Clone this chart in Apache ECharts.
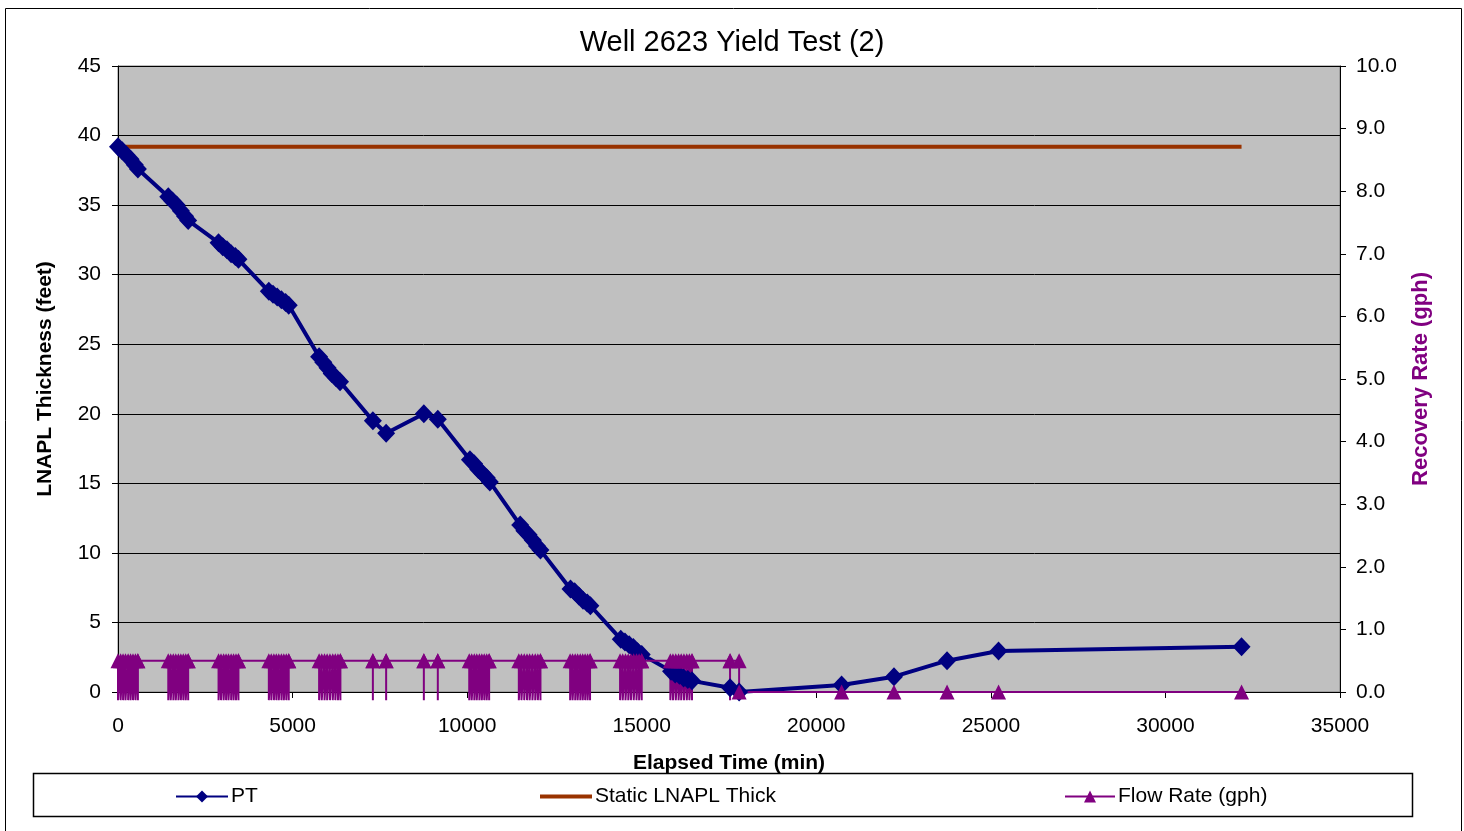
<!DOCTYPE html>
<html>
<head>
<meta charset="utf-8">
<script src="https://cdn.jsdelivr.net/npm/echarts@6/dist/echarts.min.js"></script>
<style>
html,body{margin:0;padding:0;background:#fff;}
#chart{width:1464px;height:831px;}
</style>
</head>
<body>
<div id="chart"></div>
<script>
// ---------- data ----------
const titleText = 'Well 2623 Yield Test (2)';
const xTicks = [0, 5000, 10000, 15000, 20000, 25000, 30000, 35000];
const leftTicks = [0, 5, 10, 15, 20, 25, 30, 35, 40, 45];
const rightTicks = [0.0, 1.0, 2.0, 3.0, 4.0, 5.0, 6.0, 7.0, 8.0, 9.0, 10.0];

// PT (LNAPL thickness, feet)
const ptTime = [
  0, 120, 240, 360, 480, 570,
  1440, 1560, 1680, 1800, 1920, 2010,
  2880, 3000, 3120, 3240, 3360, 3450,
  4320, 4440, 4560, 4680, 4800, 4890,
  5760, 5880, 6000, 6120, 6240, 6360,
  7300, 7680, 8760, 9160,
  10080, 10200, 10320, 10440, 10560, 10650,
  11520, 11640, 11760, 11880, 12000, 12100,
  12960, 13080, 13200, 13320, 13440, 13530,
  14400, 14520, 14640, 14760, 14880, 15000,
  15840, 15960, 16080, 16200, 16320, 16440,
  17530, 17790, 20725, 22225, 23745, 25220, 32180
];
const ptValue = [
  39.2, 38.9, 38.6, 38.3, 37.9, 37.6,
  35.6, 35.3, 35.0, 34.6, 34.2, 33.9,
  32.3, 32.0, 31.8, 31.5, 31.3, 31.1,
  28.8, 28.6, 28.4, 28.2, 28.0, 27.8,
  24.1, 23.7, 23.3, 22.9, 22.6, 22.3,
  19.5, 18.6, 20.0, 19.6,
  16.7, 16.4, 16.0, 15.7, 15.4, 15.1,
  12.0, 11.6, 11.3, 10.9, 10.5, 10.2,
  7.4, 7.2, 6.9, 6.6, 6.4, 6.2,
  3.8, 3.6, 3.4, 3.2, 2.9, 2.7,
  1.5, 1.3, 1.2, 1.0, 0.9, 0.8,
  0.3, 0.0, 0.5, 1.1, 2.25, 2.95, 3.25
];

// Static LNAPL thickness (feet)
const staticTime = [0, 32180];
const staticValue = [39.2, 39.2];

// Flow rate (gph); -0.13 = off-scale low reading (pump off)
const flowTime = [
  0,0, 75,75, 145,145, 215,215, 290,290, 360,360, 430,430, 500,500, 570,570, 570,
  1440,1440, 1510,1510, 1585,1585, 1655,1655, 1730,1730, 1800,1800, 1870,1870, 1940,1940, 2010,2010, 2010,
  2880,2880, 2950,2950, 3025,3025, 3095,3095, 3165,3165, 3240,3240, 3310,3310, 3380,3380, 3450,3450, 3450,
  4320,4320, 4390,4390, 4465,4465, 4535,4535, 4605,4605, 4680,4680, 4750,4750, 4820,4820, 4890,4890, 4890,
  5760,5760, 5835,5835, 5915,5915, 5990,5990, 6070,6070, 6150,6150, 6225,6225, 6300,6300, 6370,6370, 6370,
  7300,7300, 7300,
  7680,7680, 7680,
  8760,8760, 8760,
  9160,9160, 9160,
  10060,10060, 10130,10130, 10205,10205, 10275,10275, 10350,10350, 10420,10420, 10490,10490, 10560,10560, 10630,10630, 10630,
  11480,11480, 11555,11555, 11635,11635, 11715,11715, 11790,11790, 11870,11870, 11950,11950, 12025,12025, 12100,12100, 12100,
  12950,12950, 13020,13020, 13095,13095, 13165,13165, 13240,13240, 13310,13310, 13380,13380, 13450,13450, 13520,13520, 13520,
  14380,14380, 14455,14455, 14535,14535, 14615,14615, 14690,14690, 14770,14770, 14850,14850, 14925,14925, 15000,15000, 15000,
  15820,15820, 15895,15895, 15975,15975, 16055,16055, 16130,16130, 16210,16210, 16290,16290, 16365,16365, 16440,16440, 16440,
  17530,17530, 17530,
  17790, 17790, 20725, 22225, 23745, 25220, 32180
];
const flowRate = [
  0.5,-0.13, 0.5,-0.13, 0.5,-0.13, 0.5,-0.13, 0.5,-0.13, 0.5,-0.13, 0.5,-0.13, 0.5,-0.13, 0.5,-0.13, 0.5,
  0.5,-0.13, 0.5,-0.13, 0.5,-0.13, 0.5,-0.13, 0.5,-0.13, 0.5,-0.13, 0.5,-0.13, 0.5,-0.13, 0.5,-0.13, 0.5,
  0.5,-0.13, 0.5,-0.13, 0.5,-0.13, 0.5,-0.13, 0.5,-0.13, 0.5,-0.13, 0.5,-0.13, 0.5,-0.13, 0.5,-0.13, 0.5,
  0.5,-0.13, 0.5,-0.13, 0.5,-0.13, 0.5,-0.13, 0.5,-0.13, 0.5,-0.13, 0.5,-0.13, 0.5,-0.13, 0.5,-0.13, 0.5,
  0.5,-0.13, 0.5,-0.13, 0.5,-0.13, 0.5,-0.13, 0.5,-0.13, 0.5,-0.13, 0.5,-0.13, 0.5,-0.13, 0.5,-0.13, 0.5,
  0.5,-0.13, 0.5,
  0.5,-0.13, 0.5,
  0.5,-0.13, 0.5,
  0.5,-0.13, 0.5,
  0.5,-0.13, 0.5,-0.13, 0.5,-0.13, 0.5,-0.13, 0.5,-0.13, 0.5,-0.13, 0.5,-0.13, 0.5,-0.13, 0.5,-0.13, 0.5,
  0.5,-0.13, 0.5,-0.13, 0.5,-0.13, 0.5,-0.13, 0.5,-0.13, 0.5,-0.13, 0.5,-0.13, 0.5,-0.13, 0.5,-0.13, 0.5,
  0.5,-0.13, 0.5,-0.13, 0.5,-0.13, 0.5,-0.13, 0.5,-0.13, 0.5,-0.13, 0.5,-0.13, 0.5,-0.13, 0.5,-0.13, 0.5,
  0.5,-0.13, 0.5,-0.13, 0.5,-0.13, 0.5,-0.13, 0.5,-0.13, 0.5,-0.13, 0.5,-0.13, 0.5,-0.13, 0.5,-0.13, 0.5,
  0.5,-0.13, 0.5,-0.13, 0.5,-0.13, 0.5,-0.13, 0.5,-0.13, 0.5,-0.13, 0.5,-0.13, 0.5,-0.13, 0.5,-0.13, 0.5,
  0.5,-0.13, 0.5,
  0.5, 0.0, 0.0, 0.0, 0.0, 0.0, 0.0
];

// ---------- chart ----------
const FONT = 'Liberation Sans, Arial, Helvetica, sans-serif';
const C_PT = '#000080', C_STATIC = '#993300', C_FLOW = '#800080';

const ptData = ptTime.map((t, i) => [t, ptValue[i]]);
const staticData = staticTime.map((t, i) => [t, staticValue[i]]);
const flowData = flowTime.map((t, i) => {
  const v = flowRate[i];
  return v < 0 ? { value: [t, v], symbol: 'none' } : { value: [t, v] };
});

const chart = echarts.init(document.getElementById('chart'), null, { renderer: 'canvas' });
const legendBase = {
  top: 786, itemWidth: 52, itemHeight: 15, selectedMode: false, padding: 0,
  textStyle: { fontFamily: FONT, fontSize: 21, color: '#000', padding: [0, 0, 0, -2] }
};
chart.setOption({
  backgroundColor: '#fff',
  animation: false,
  title: {
    text: titleText, left: 'center', top: 23,
    textStyle: { fontFamily: FONT, fontSize: 29, fontWeight: 'normal', color: '#000' }
  },
  graphic: [
    { type: 'rect', silent: true, z: -10, shape: { x: 5.5, y: 8.5, width: 1456, height: 830 },
      style: { fill: 'none', stroke: '#000', lineWidth: 1 } },
    { type: 'rect', silent: true, z: -10, shape: { x: 33.5, y: 773.5, width: 1379, height: 43 },
      style: { fill: '#fff', stroke: '#000', lineWidth: 1.5 } }
  ],
  legend: [
    Object.assign({}, legendBase, { left: 175, data: ['PT'] }),
    Object.assign({}, legendBase, { left: 540, itemHeight: 4,
      data: [{ name: 'Static LNAPL Thick', icon: 'rect' }] }),
    Object.assign({}, legendBase, { left: 1064, itemWidth: 50, data: ['Flow Rate (gph)'] })
  ],
  grid: {
    left: 118, right: 124, top: 66, bottom: 139,
    show: true, backgroundColor: '#C0C0C0', borderColor: '#808080', borderWidth: 1
  },
  xAxis: {
    type: 'value', min: 0, max: 35000, interval: 5000,
    name: 'Elapsed Time (min)', nameLocation: 'middle', nameGap: 61,
    nameTextStyle: { fontFamily: FONT, fontSize: 21, fontWeight: 'bold', color: '#000' },
    axisLine: { show: true, onZero: false, lineStyle: { color: '#000', width: 1 } },
    axisTick: { show: true, inside: false, length: 6, lineStyle: { color: '#000' } },
    axisLabel: { fontFamily: FONT, fontSize: 21, color: '#000', margin: 24,
      formatter: v => xTicks.includes(v) ? String(v) : '' },
    splitLine: { show: false }
  },
  yAxis: [
    {
      type: 'value', min: 0, max: 45, interval: 5, position: 'left',
      name: 'LNAPL Thickness (feet)', nameLocation: 'middle', nameGap: 62, nameRotate: 90,
      nameTextStyle: { fontFamily: FONT, fontSize: 21, fontWeight: 'bold', color: '#000' },
      axisLine: { show: true, lineStyle: { color: '#000', width: 1 } },
      axisTick: { show: true, length: 6, lineStyle: { color: '#000' } },
      axisLabel: { fontFamily: FONT, fontSize: 21, color: '#000', margin: 17,
        formatter: v => leftTicks.includes(v) ? String(v) : '' },
      splitLine: { show: true, lineStyle: { color: '#000', width: 1 } }
    },
    {
      type: 'value', min: 0, max: 10, interval: 1, position: 'right',
      name: 'Recovery Rate (gph)', nameLocation: 'middle', nameGap: 70, nameRotate: 90,
      nameTextStyle: { fontFamily: FONT, fontSize: 22, fontWeight: 'bold', color: C_FLOW },
      axisLine: { show: true, lineStyle: { color: '#000', width: 1 } },
      axisTick: { show: true, length: 6, lineStyle: { color: '#000' } },
      axisLabel: { fontFamily: FONT, fontSize: 21, color: '#000', margin: 16,
        formatter: v => rightTicks.includes(v) ? v.toFixed(1) : '' },
      splitLine: { show: false }
    }
  ],
  series: [
    {
      name: 'Static LNAPL Thick', type: 'line', yAxisIndex: 0, data: staticData,
      symbol: 'none', lineStyle: { color: C_STATIC, width: 4 }, itemStyle: { color: C_STATIC }
    },
    {
      name: 'PT', type: 'line', yAxisIndex: 0, data: ptData,
      symbol: 'diamond', symbolSize: [18, 19], showAllSymbol: true,
      lineStyle: { color: C_PT, width: 4 }, itemStyle: { color: C_PT }
    },
    {
      name: 'Flow Rate (gph)', type: 'line', yAxisIndex: 1, data: flowData, clip: false,
      symbol: 'triangle', symbolSize: 15, showAllSymbol: true,
      lineStyle: { color: C_FLOW, width: 2 }, itemStyle: { color: C_FLOW }
    }
  ]
});
</script>
</body>
</html>
